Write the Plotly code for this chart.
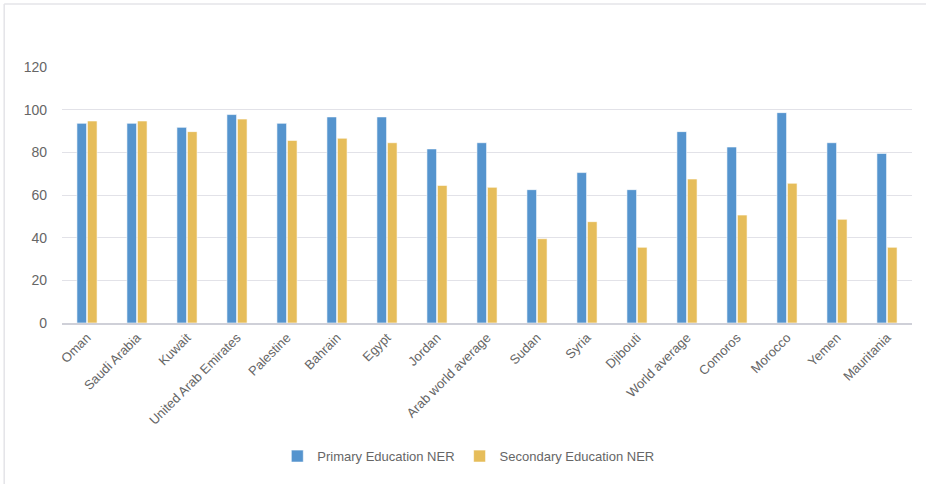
import plotly.graph_objects as go

categories = ["Oman", "Saudi Arabia", "Kuwait", "United Arab Emirates", "Palestine",
              "Bahrain", "Egypt", "Jordan", "Arab world average", "Sudan", "Syria",
              "Djibouti", "World average", "Comoros", "Morocco", "Yemen", "Mauritania"]
primary = [93.6, 93.6, 91.7, 97.7, 93.6, 96.6, 96.6, 81.6, 84.5, 62.5, 70.5, 62.5, 89.7, 82.5, 98.6, 84.5, 79.5]
secondary = [94.7, 94.7, 89.7, 95.6, 85.6, 86.6, 84.5, 64.5, 63.6, 39.5, 47.5, 35.5, 67.5, 50.6, 65.5, 48.6, 35.5]
y_ticks = [0, 20, 40, 60, 80, 100, 120]

fig = go.Figure()
fig.add_trace(go.Bar(name="Primary Education NER", x=categories, y=primary,
                     marker=dict(color="#5594CE", line=dict(color="#ffffff", width=0.6))))
fig.add_trace(go.Bar(name="Secondary Education NER", x=categories, y=secondary,
                     marker=dict(color="#E6BD5A", line=dict(color="#ffffff", width=0.6))))

fig.update_layout(
    width=926, height=484,
    margin=dict(l=62, r=14, t=67, b=161),
    paper_bgcolor="white", plot_bgcolor="white",
    barmode="group", bargap=0.58, bargroupgap=0.08,
    font=dict(family="Liberation Sans, Arial, sans-serif", color="#666666"),
    showlegend=True,
    legend=dict(orientation="h", x=0.478, xanchor="center", y=-0.52, yanchor="middle",
                font=dict(size=13, color="#666666"), itemwidth=30,
                traceorder="normal"),
    xaxis=dict(tickangle=-45, tickfont=dict(size=13, color="#666666"),
               showgrid=False, showline=True, linecolor="#cfd0d8", linewidth=2,
               ticks="", fixedrange=True),
    yaxis=dict(range=[0, 120], tickvals=y_ticks, tickfont=dict(size=14, color="#666666"),
               showgrid=True, gridcolor="#e2e2e8", gridwidth=1.2, zeroline=False,
               ticks="", ticklabelstandoff=14, showline=False, fixedrange=True),
    shapes=[
        dict(type="line", xref="paper", yref="paper", x0=-0.068, x1=-0.068, y0=-0.63, y1=1.246,
             line=dict(color="#e4e4e8", width=1.5)),
        dict(type="line", xref="paper", yref="paper", x0=-0.068, x1=1.02, y0=1.246, y1=1.246,
             line=dict(color="#e4e4e8", width=1.5)),
    ],
)

fig.write_html("out.html", config={"displayModeBar": False},
               post_script="document.body.style.margin='0px';")
